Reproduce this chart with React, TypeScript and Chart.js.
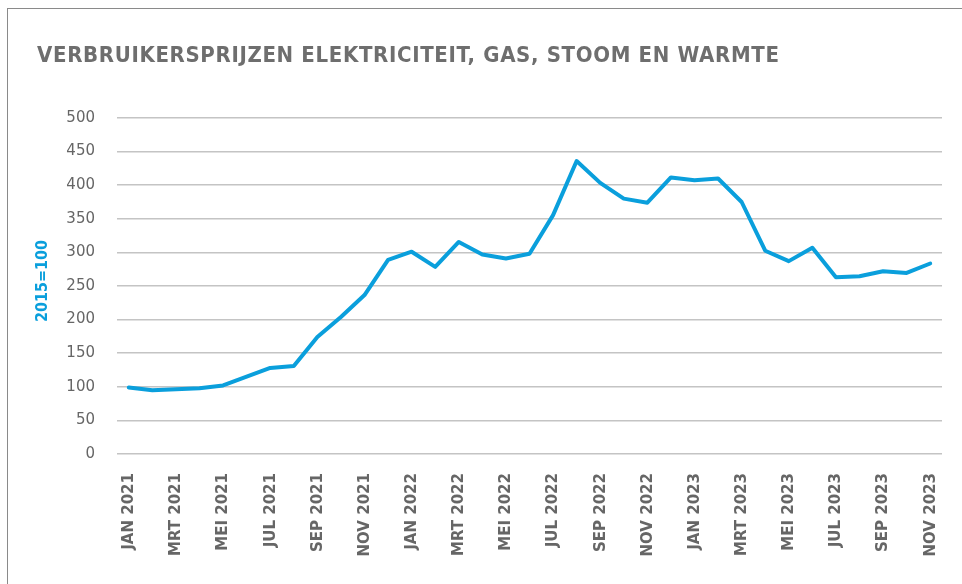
import React, { useEffect, useRef } from 'react';
import { Chart, registerables } from 'chart.js';

Chart.register(...registerables);

const TITLE = 'VERBRUIKERSPRIJZEN ELEKTRICITEIT, GAS, STOOM EN WARMTE';
const Y_TITLE = '\u00a0\u00a02015=100';

const categories = [
  'JAN 2021', 'FEB 2021', 'MRT 2021', 'APR 2021', 'MEI 2021', 'JUN 2021',
  'JUL 2021', 'AUG 2021', 'SEP 2021', 'OKT 2021', 'NOV 2021', 'DEC 2021',
  'JAN 2022', 'FEB 2022', 'MRT 2022', 'APR 2022', 'MEI 2022', 'JUN 2022',
  'JUL 2022', 'AUG 2022', 'SEP 2022', 'OKT 2022', 'NOV 2022', 'DEC 2022',
  'JAN 2023', 'FEB 2023', 'MRT 2023', 'APR 2023', 'MEI 2023', 'JUN 2023',
  'JUL 2023', 'AUG 2023', 'SEP 2023', 'OKT 2023', 'NOV 2023',
];

const priceIndex = [
  99, 95, 96.5, 98, 102, 115, 128, 131, 174, 204, 236.5, 289,
  301, 278.5, 315.5, 297, 291, 298, 355.5, 436, 403.5, 380, 374, 411.5,
  407.5, 410, 375, 302.5, 287, 307, 263, 264.5, 272, 269.5, 283.5,
];

const yMin = 0;
const yMax = 500;
const yStep = 50;

const BLUE = '#0a9fdc';
const GREY_TEXT = '#666666';

export default function App() {
  const ref = useRef<HTMLCanvasElement>(null);

  useEffect(() => {
    const chart = new Chart(ref.current as HTMLCanvasElement, {
      type: 'line',
      data: {
        labels: categories,
        datasets: [
          {
            data: priceIndex,
            borderColor: BLUE,
            backgroundColor: BLUE,
            borderWidth: 4,
            pointRadius: 0,
            tension: 0,
            fill: false,
            borderJoinStyle: 'round',
            borderCapStyle: 'round',
          },
        ],
      },
      options: {
        animation: false,
        responsive: false,
        maintainAspectRatio: false,
        devicePixelRatio: 1,
        layout: { padding: { top: 118, left: 0, right: 20, bottom: 0 } },
        plugins: {
          legend: { display: false },
          tooltip: { enabled: false },
        },
        scales: {
          x: {
            offset: true,
            grid: { display: false, drawTicks: false },
            border: { display: false },
            ticks: {
              autoSkip: false,
              maxRotation: 90,
              minRotation: 90,
              padding: 19,
              color: GREY_TEXT,
              font: { family: '"DejaVu Sans Condensed", "DejaVu Sans"', weight: 'bold', size: 16.7 },
              callback: (_v: any, i: number) => (i % 2 === 0 ? categories[i] : ''),
            },
            afterFit: (s: any) => {
              s.height = 130;
              s.paddingLeft = 0;
              s.paddingRight = 0;
            },
          },
          y: {
            min: yMin,
            max: yMax,
            border: { display: false },
            grid: { color: '#c4c4c4', lineWidth: 1.5, drawTicks: false },
            ticks: {
              stepSize: yStep,
              padding: 22,
              color: GREY_TEXT,
              font: { family: '"DejaVu Sans"', size: 15 },
            },
            title: {
              display: true,
              text: Y_TITLE,
              color: BLUE,
              font: { family: '"DejaVu Sans Condensed", "DejaVu Sans"', weight: 'bold', size: 16, lineHeight: 1.2 },
              padding: { top: 33, bottom: 0 },
            },
            afterFit: (s: any) => {
              s.width = 117;
            },
          },
        },
      },
    } as any);
    return () => chart.destroy();
  }, []);

  return (
    <div>
      <canvas
        ref={ref}
        width={962}
        height={584}
        style={{ position: 'absolute', left: 0, top: 0, width: 962, height: 584 }}
      />
      <div
        style={{
          position: 'absolute',
          left: 7,
          top: 8,
          width: 955,
          height: 576,
          borderTop: '1px solid #8a8a8a',
          borderLeft: '1px solid #8a8a8a',
          boxSizing: 'border-box',
          pointerEvents: 'none',
        }}
      />
      <div
        style={{
          position: 'absolute',
          left: 37,
          top: 44,
          fontFamily: '"DejaVu Sans Condensed", "DejaVu Sans", sans-serif',
          fontWeight: 'bold',
          fontSize: 22,
          letterSpacing: '0.65px',
          lineHeight: '22px',
          color: '#6e6e6e',
          whiteSpace: 'nowrap',
        }}
      >
        {TITLE}
      </div>
    </div>
  );
}
